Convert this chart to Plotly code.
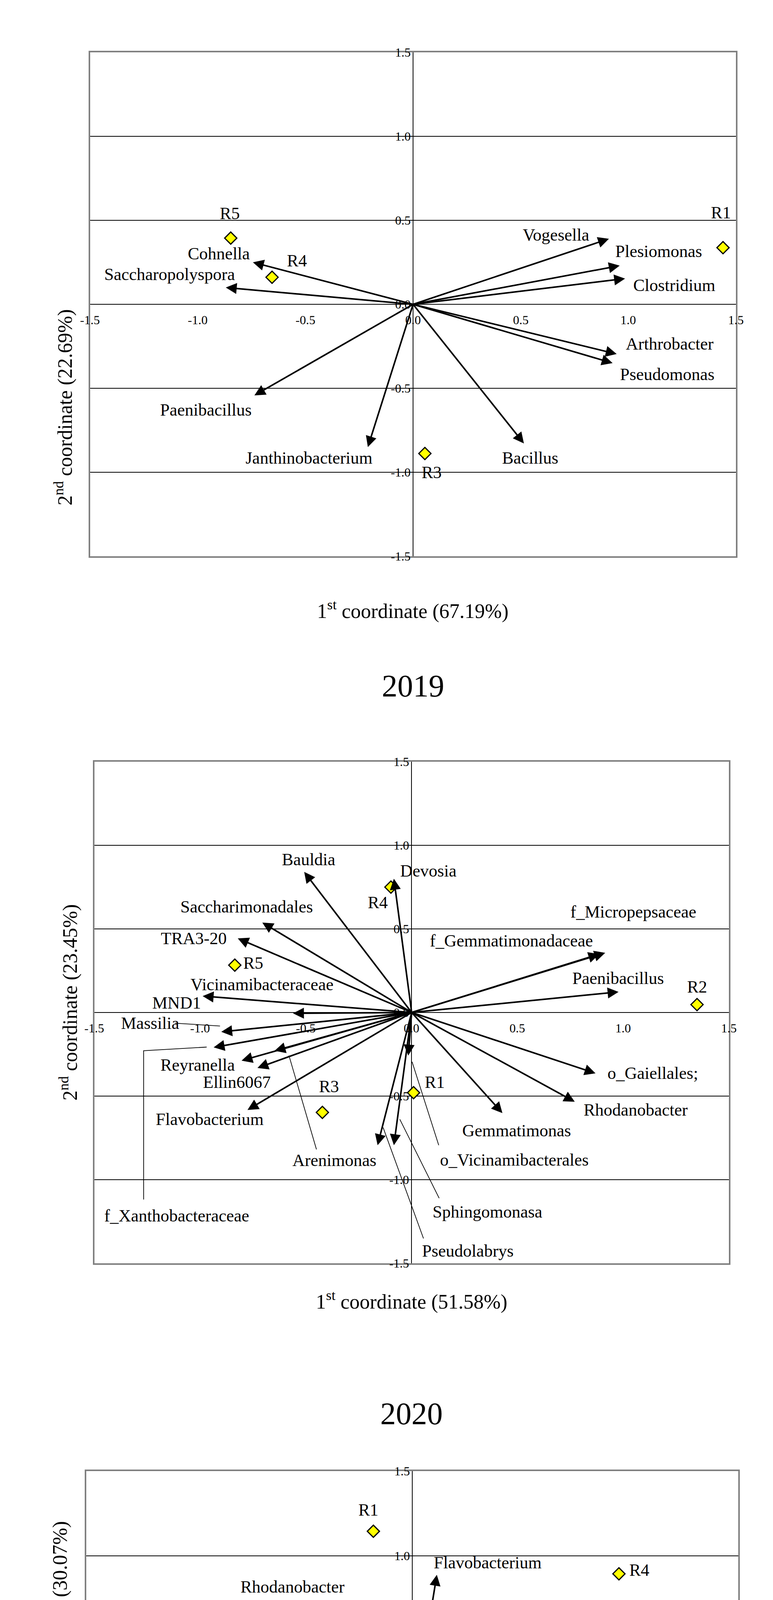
import plotly.graph_objects as go

FONT = "Liberation Serif"

# ---------- 2019 ----------
p1_taxa = ["Vogesella", "Plesiomonas", "Clostridium", "Arthrobacter", "Pseudomonas",
           "Bacillus", "Janthinobacterium", "Paenibacillus", "Saccharopolyspora", "Cohnella"]
p1_x = [0.91, 0.96, 0.985, 0.946, 0.927, 0.515, -0.21, -0.737, -0.87, -0.744]
p1_y = [0.39, 0.23, 0.153, -0.296, -0.35, -0.828, -0.85, -0.542, 0.10, 0.25]
p1_lx = [0.664, 1.14, 1.214, 1.193, 1.18, 0.545, -0.483, -0.962, -1.131, -0.902]
p1_ly = [0.413, 0.314, 0.114, -0.236, -0.418, -0.914, -0.914, -0.628, 0.179, 0.301]
p1_sites = ["R5", "R4", "R1", "R3"]
p1_sx = [-0.847, -0.655, 1.44, 0.055]
p1_sy = [0.394, 0.161, 0.337, -0.888]
p1_slx = [-0.852, -0.54, 1.43, 0.087]
p1_sly = [0.54, 0.26, 0.545, -1.0]

# ---------- 2020 ----------
p2_taxa = ["Bauldia", "Devosia", "Saccharimonadales", "TRA3-20", "Vicinamibacteraceae", "MND1",
           "Massilia", "f_Xanthobacteraceae", "Reyranella", "Ellin6067", "Arenimonas",
           "Flavobacterium", "Pseudolabrys", "Sphingomonasa", "o_Vicinamibacterales",
           "Gemmatimonas", "Rhodanobacter", "o_Gaiellales;", "Paenibacillus",
           "f_Micropepsaceae", "f_Gemmatimonadaceae"]
p2_x = [-0.508, -0.084, -0.706, -0.822, -0.988, -0.561, -0.9, -0.936, -0.804, -0.729, -0.648,
        -0.776, -0.161, -0.084, -0.016, 0.429, 0.771, 0.869, 0.978, 0.915, 0.887]
p2_y = [0.841, 0.80, 0.538, 0.443, 0.098, -0.005, -0.116, -0.209, -0.288, -0.332, -0.229,
        -0.583, -0.794, -0.794, -0.258, -0.602, -0.534, -0.364, 0.123, 0.357, 0.349]
p2_lx = [-0.487, 0.079, -0.78, -1.03, -0.708, -1.111, -1.237, -1.111, -1.011, -0.825, -0.366,
         -0.955, 0.266, 0.359, 0.485, 0.496, 1.06, 1.139, 0.976, 1.048, 0.471]
p2_ly = [0.915, 0.846, 0.632, 0.443, 0.167, 0.057, -0.064, -1.217, -0.315, -0.418, -0.885,
         -0.639, -1.426, -1.193, -0.883, -0.706, -0.583, -0.364, 0.204, 0.602, 0.428]
p2_sites = ["R4", "R5", "R2", "R3", "R1"]
p2_sx = [-0.098, -0.836, 1.349, -0.422, 0.009]
p2_sy = [0.75, 0.283, 0.047, -0.598, -0.48]
p2_slx = [-0.161, -0.75, 1.349, -0.391, 0.109]
p2_sly = [0.657, 0.295, 0.152, -0.443, -0.418]
# leader lines (label -> arrow) for 2020
p2_leaders_x = [[-1.12, -0.906], [-0.969, -1.267, -1.267], [-0.58, -0.45],
                [-0.135, 0.056], [-0.056, 0.13], [0.002, 0.128]]
p2_leaders_y = [[-0.064, -0.081], [-0.207, -0.229, -1.119], [-0.258, -0.819],
                [-0.688, -1.352], [-0.639, -1.111], [-0.295, -0.794]]

# ---------- 2021 ----------
p3_taxa = ["Flavobacterium", "Rhodanobacter", "Sphingomonas", "f_Chitinophagaceae",
           "Saccharimonadales", "", "o_Gaiellales", "Gemmatimonas", "o_Gaiellales",
           "f_Micropepsaceae", "Chujaibacter", "Chloroplast", "Nocardioides"]
p3_x = [0.113, -0.447, -0.288, 0.483, 0.885, 0.15, -0.833, -0.681, -0.826, -0.531, 0.692, 0.624, 0.597]
p3_y = [0.888, 0.716, 0.391, 0.518, 0.28, -0.024, -0.09, -0.275, -0.367, -0.817, -0.452, -0.619, -0.772]
p3_lx = [0.347, -0.551, -0.597, 0.812, 1.107, 0.15, -0.844, -0.985, -0.83, -0.658, 0.93, 0.853, 0.815]
p3_ly = [0.96, 0.817, 0.407, 0.582, 0.354, 0.0, 0.085, -0.222, -0.455, -0.928, -0.418, -0.605, -0.875]
p3_sites = ["R1", "R4", "R2", "R5", "R3"]
p3_sx = [-0.179, 0.951, -0.899, -1.166, 1.289]
p3_sy = [1.145, 0.894, -0.312, -0.526, -1.195]
p3_slx = [-0.202, 1.044, -1.012, -1.257, 1.282]
p3_sly = [1.271, 0.915, -0.338, -0.648, -1.327]

tick_vals = [-1.5, -1.0, -0.5, 0.0, 0.5, 1.0, 1.5]
tick_text = ["-1.5", "-1.0", "-0.5", "0.0", "0.5", "1.0", "1.5"]
grid_vals = [1.0, 0.5, -0.5, -1.0]

panels = [
    dict(taxa=p1_taxa, x=p1_x, y=p1_y, lx=p1_lx, ly=p1_ly, sites=p1_sites, sx=p1_sx, sy=p1_sy,
         slx=p1_slx, sly=p1_sly, xd=[0.1126, 0.948], yd=[0.7401, 0.9769],
         xt="1<sup>st</sup> coordinate (67.19%)", yt="2<sup>nd</sup> coordinate (22.69%)",
         xty=0.7214, ytx=0.061, yty=0.8567, year="2019", yeary=0.6877, lead=None),
    dict(taxa=p2_taxa, x=p2_x, y=p2_y, lx=p2_lx, ly=p2_ly, sites=p2_sites, sx=p2_sx, sy=p2_sy,
         slx=p2_slx, sly=p2_sly, xd=[0.118, 0.939], yd=[0.408, 0.6436],
         xt="1<sup>st</sup> coordinate (51.58%)", yt="2<sup>nd</sup> coordinate (23.45%)",
         xty=0.3905, ytx=0.067, yty=0.5306, year="2020", yeary=0.3373,
         lead=(p2_leaders_x, p2_leaders_y)),
    dict(taxa=p3_taxa, x=p3_x, y=p3_y, lx=p3_lx, ly=p3_ly, sites=p3_sites, sx=p3_sx, sy=p3_sy,
         slx=p3_slx, sly=p3_sly, xd=[0.1076, 0.951], yd=[0.0716, 0.3103],
         xt="1<sup>st</sup> coordinate (36.62%)", yt="2<sup>nd</sup> coordinate (30.07%)",
         xty=0.0523, ytx=0.054, yty=0.1943, year="2021", yeary=0.0176, lead=None),
]

fig = go.Figure()
annotations = []
for i, p in enumerate(panels):
    n = "" if i == 0 else str(i + 1)
    xr, yr = "x" + n, "y" + n
    xa, ya = "xaxis" + n, "yaxis" + n
    fig.update_layout(**{
        xa: dict(domain=p["xd"], range=[-1.5, 1.5], showgrid=False, zeroline=True,
                 zerolinecolor="black", zerolinewidth=1.5, showticklabels=False, ticks="",
                 showline=True, linecolor="#808080", linewidth=4, mirror=True,
                 anchor=yr, fixedrange=True),
        ya: dict(domain=p["yd"], range=[-1.5, 1.5], showgrid=True, gridcolor="#000000",
                 gridwidth=1.6, tickvals=grid_vals, showticklabels=False, ticks="",
                 zeroline=True, zerolinecolor="black", zerolinewidth=1.5,
                 showline=True, linecolor="#808080", linewidth=4, mirror=True,
                 anchor=xr, fixedrange=True),
    })
    for v, t in zip(tick_vals, tick_text):
        annotations.append(dict(x=v, y=0, xref=xr, yref=yr, text=t, showarrow=False,
                                yshift=-40, font=dict(family=FONT, size=32, color="black")))
        annotations.append(dict(x=0, y=v, xref=xr, yref=yr, text=t, showarrow=False,
                                xanchor="right", xshift=-4,
                                font=dict(family=FONT, size=32, color="black")))
    for t, ex, ey in zip(p["taxa"], p["x"], p["y"]):
        annotations.append(dict(x=ex, y=ey, ax=0, ay=0, xref=xr, yref=yr, axref=xr, ayref=yr,
                                text="", showarrow=True, arrowhead=2, arrowsize=1.4,
                                arrowwidth=4, arrowcolor="black"))
    for t, lx, ly in zip(p["taxa"], p["lx"], p["ly"]):
        if t:
            annotations.append(dict(x=lx, y=ly, xref=xr, yref=yr, text=t, showarrow=False,
                                    font=dict(family=FONT, size=44, color="black")))
    if p["lead"]:
        for lxs, lys in zip(*p["lead"]):
            fig.add_trace(go.Scatter(x=lxs, y=lys, mode="lines", xaxis=xr, yaxis=yr,
                                     line=dict(color="black", width=1.8),
                                     showlegend=False, hoverinfo="skip"))
    fig.add_trace(go.Scatter(x=p["sx"], y=p["sy"], mode="markers", xaxis=xr, yaxis=yr,
                             marker=dict(symbol="diamond", size=24, color="#FFFF00",
                                         line=dict(color="black", width=3)),
                             showlegend=False, hoverinfo="skip"))
    for s, lx, ly in zip(p["sites"], p["slx"], p["sly"]):
        annotations.append(dict(x=lx, y=ly, xref=xr, yref=yr, text=s, showarrow=False,
                                font=dict(family=FONT, size=44, color="black")))
    xc = (p["xd"][0] + p["xd"][1]) / 2
    annotations.append(dict(x=xc, y=p["xty"], xref="paper", yref="paper", text=p["xt"],
                            showarrow=False, font=dict(family=FONT, size=52, color="black")))
    annotations.append(dict(x=p["ytx"], y=p["yty"], xref="paper", yref="paper", text=p["yt"],
                            showarrow=False, textangle=-90,
                            font=dict(family=FONT, size=52, color="black")))
    annotations.append(dict(x=xc, y=p["yeary"], xref="paper", yref="paper", text=p["year"],
                            showarrow=False, font=dict(family=FONT, size=80, color="black")))

fig.update_layout(width=1980, height=5449, margin=dict(l=0, r=0, t=0, b=0),
                  paper_bgcolor="white", plot_bgcolor="white",
                  annotations=annotations, showlegend=False)
fig.write_html("out.html")
